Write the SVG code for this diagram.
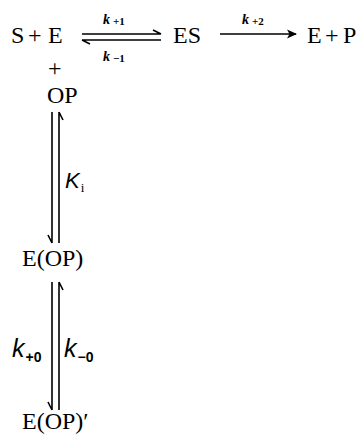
<svg xmlns="http://www.w3.org/2000/svg" width="362" height="435" viewBox="0 0 362 435">
<style>
.t{font-family:"Liberation Serif","Times New Roman",serif;font-size:24px;fill:#000}
.rk{font-family:"Liberation Serif","Times New Roman",serif;font-size:14px;font-weight:bold;font-style:italic;fill:#000}
.rs{font-family:"Liberation Serif","Times New Roman",serif;font-size:11px;font-weight:bold;fill:#000}
.bk{font-family:"Liberation Sans",Arial,sans-serif;font-size:25px;font-style:italic;fill:#000}
.bs{font-family:"Liberation Sans",Arial,sans-serif;font-size:14px;font-weight:bold;fill:#000}
.ln{stroke:#000;stroke-width:1.6;fill:none;stroke-linecap:butt}
</style>
<rect width="362" height="435" fill="#fff"/>
<g id="nodes">
<g id="SE"><text class="t" x="11" y="43">S</text><text class="t" x="28" y="43">+</text><text class="t" x="48" y="43">E</text></g>
<g id="ES"><text class="t" x="173" y="43">ES</text></g>
<g id="EP"><text class="t" x="307" y="43">E</text><text class="t" x="325" y="43">+</text><text class="t" x="343" y="43">P</text></g>
<g id="plus"><text class="t" x="48" y="76">+</text></g>
<g id="OP"><text class="t" x="47" y="103">OP</text></g>
<g id="EOP"><text class="t" x="22" y="266">E(OP)</text></g>
<g id="EOP2"><text class="t" x="22" y="429">E(OP)′</text></g>
</g>
<g id="connectors">
<path class="ln" d="M82,34 H161 M161,34 L153,30"/>
<path class="ln" d="M161,40 H82 M82,40 L90,44"/>
<path class="ln" d="M220,34 H296"/>
<path d="M297,34 L287,29.5 L289.5,34 L287,38.5 Z" fill="#000"/>
<path class="ln" d="M52,112 V243 M52,243 L48,235"/>
<path class="ln" d="M59,243 V112 M59,112 L63,120"/>
<path class="ln" d="M52,282 V410 M52,410 L48,402"/>
<path class="ln" d="M59,410 V282 M59,282 L63,290"/>
</g>
<g id="labels">
<text x="103" y="24"><tspan class="rk">k</tspan><tspan class="rs" dx="3" dy="1">+1</tspan></text>
<text x="103" y="61"><tspan class="rk">k</tspan><tspan class="rs" dx="3" dy="1">−1</tspan></text>
<text x="242" y="24"><tspan class="rk">k</tspan><tspan class="rs" dx="3" dy="1">+2</tspan></text>
<text x="65" y="188"><tspan class="bk" style="font-size:22px">K</tspan><tspan class="t" style="font-size:13px" dx="1" dy="4">i</tspan></text>
<text x="12" y="357"><tspan class="bk">k</tspan><tspan class="bs" dx="1" dy="5">+0</tspan></text>
<text x="64" y="357"><tspan class="bk">k</tspan><tspan class="bs" dx="1" dy="5">−0</tspan></text>
</g>
</svg>
